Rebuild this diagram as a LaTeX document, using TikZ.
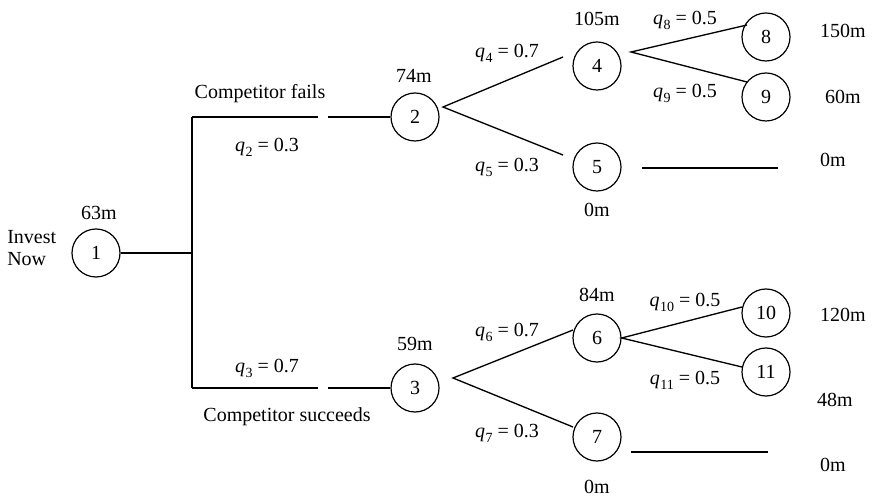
\documentclass[tikz,border=0pt]{standalone}
\usepackage{fontspec}
\setmainfont{Liberation Serif}
\newcommand\qsub[1]{\textit{q}\kern0.5pt\raisebox{-0.55ex}{\fontsize{10.5}{11}\selectfont #1}}
\begin{document}
\begin{tikzpicture}[x=0.75pt,y=-0.75pt,
  every node/.style={font=\fontsize{15}{17}\selectfont},
  chance/.style={circle,draw,line width=0.9pt,minimum size=36pt,inner sep=0pt},
  edge/.style={line width=1pt},
  lbl/.style={inner sep=0pt}]
\useasboundingbox (0,0) rectangle (873,498);
% nodes
\node[chance] (n1) at (96,253) {1};
\node[chance] (n2) at (415,117) {2};
\node[chance] (n3) at (415,388) {3};
\node[chance] (n4) at (597,66) {4};
\node[chance] (n5) at (597,167) {5};
\node[chance] (n6) at (597,338) {6};
\node[chance] (n7) at (597,437) {7};
\node[chance] (n8) at (766,37) {8};
\node[chance] (n9) at (766,97) {9};
\node[chance] (n10) at (766,313) {10};
\node[chance] (n11) at (766,372) {11};
% coordinates
\coordinate (j) at (192,253);
\coordinate (jt) at (192,117);
\coordinate (jb) at (192,388);
\coordinate (gt1) at (318,117);
\coordinate (gt2) at (328,117);
\coordinate (gb1) at (318,388);
\coordinate (gb2) at (328,388);
\coordinate (a2) at (443,107);
\coordinate (a3) at (453,378);
\coordinate (a4) at (631,52);
\coordinate (e4) at (563,57);
\coordinate (e5) at (563,155);
\coordinate (e6) at (573,330);
\coordinate (e7) at (573,427);
\coordinate (e8) at (747,25);
\coordinate (e9) at (747,82);
\coordinate (e10) at (742,307);
\coordinate (e11) at (742,367);
\coordinate (t5a) at (642,168);
\coordinate (t5b) at (778,168);
\coordinate (t7a) at (631,452);
\coordinate (t7b) at (768,452);
% connectors
\draw[edge] (n1.east) -- (j);
\draw[edge] (jt) -- (jb);
\draw[edge] (jt) -- (gt1);
\draw[edge] (gt2) -- (n2.west);
\draw[edge] (jb) -- (gb1);
\draw[edge] (gb2) -- (n3.west);
\draw[edge] (e4) -- (a2) -- (e5);
\draw[edge] (e6) -- (a3) -- (e7);
\draw[edge] (e8) -- (a4) -- (e9);
\draw[edge] (e10) -- (n6.east) -- (e11);
\draw[edge] (t5a) -- (t5b);
\draw[edge] (t7a) -- (t7b);
% labels
\node[lbl,align=left,anchor=west] (inv) at (7,248) {Invest\\Now};
\node[lbl] (v1) at (99,213) {63m};
\node[lbl] (v2) at (414,76) {74m};
\node[lbl] (v3) at (415,344) {59m};
\node[lbl] (v4) at (597,19) {105m};
\node[lbl] (v5) at (597,210) {0m};
\node[lbl] (v6) at (597,295) {84m};
\node[lbl] (v7) at (597,487) {0m};
\node[lbl] (v8) at (843,31) {150m};
\node[lbl] (v9) at (843,97) {60m};
\node[lbl] (v5r) at (833,160) {0m};
\node[lbl] (v10) at (843,315) {120m};
\node[lbl] (v11) at (835,400) {48m};
\node[lbl] (v7r) at (833,465) {0m};
\node[lbl] (cf) at (260,94) {Competitor fails};
\node[lbl] (cs) at (287,417) {Competitor succeeds};
\node[lbl] (q2) at (267,147) {\qsub{2} = 0.3};
\node[lbl] (q3) at (267,368) {\qsub{3} = 0.7};
\node[lbl] (q4) at (507,53) {\qsub{4} = 0.7};
\node[lbl] (q5) at (507,167) {\qsub{5} = 0.3};
\node[lbl] (q6) at (507,332) {\qsub{6} = 0.7};
\node[lbl] (q7) at (507,433) {\qsub{7} = 0.3};
\node[lbl] (q8) at (685,20) {\qsub{8} = 0.5};
\node[lbl] (q9) at (685,93) {\qsub{9} = 0.5};
\node[lbl] (q10) at (685,302) {\qsub{10} = 0.5};
\node[lbl] (q11) at (685,380) {\qsub{11} = 0.5};
\end{tikzpicture}
\end{document}
